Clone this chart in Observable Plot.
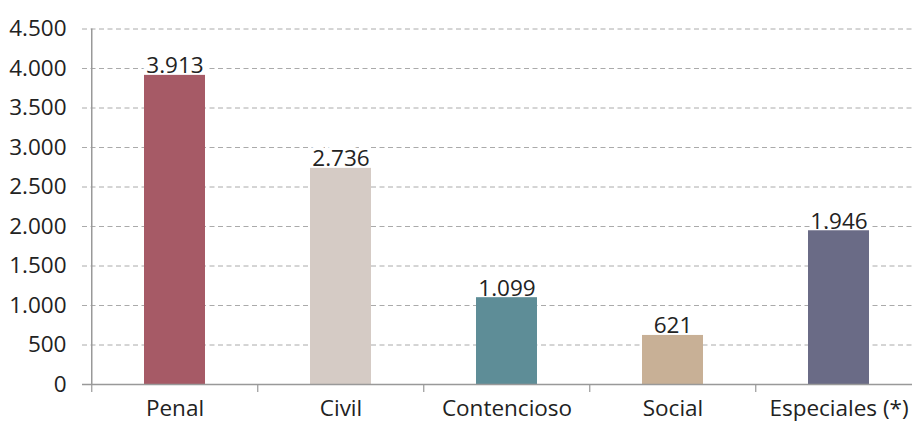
<!DOCTYPE html>
<html><head><meta charset="utf-8">
<script src="https://cdn.jsdelivr.net/npm/d3@7"></script>
<script src="https://cdn.jsdelivr.net/npm/@observablehq/plot@0.6"></script>
<style>body{margin:0;background:#fff;}</style>
</head><body><div id="chart"></div>
<script>
const categories = ["Penal", "Civil", "Contencioso", "Social", "Especiales (*)"];
const values = [3913, 2736, 1099, 621, 1946];
const valueLabels = ["3.913", "2.736", "1.099", "621", "1.946"];
const barColors = ["#a65a66", "#d5cbc5", "#5e8d97", "#c8b096", "#6a6b86"];
const yTicks = [0, 500, 1000, 1500, 2000, 2500, 3000, 3500, 4000, 4500];
const yTickLabels = ["0", "500", "1.000", "1.500", "2.000", "2.500", "3.000", "3.500", "4.000", "4.500"];

const data = categories.map((c, i) => ({c, v: values[i], label: valueLabels[i], color: barColors[i]}));
const xRange = [90, 922.5];
const half = (xRange[1] - xRange[0]) / categories.length / 2;
const fs = 22.5;

const chart = Plot.plot({
  width: 912, height: 424,
  marginTop: 28.5, marginBottom: 40, marginLeft: 82, marginRight: 0,
  style: {fontFamily: "'Open Sans', 'Noto Sans', sans-serif", fontSize: fs + "px", color: "#222", background: "white", overflow: "hidden"},
  x: {domain: categories, range: xRange, paddingInner: 0.634, paddingOuter: 0.317, align: 0.5, label: null},
  y: {domain: [0, 4500], label: null},
  color: {type: "identity"},
  marks: [
    Plot.ruleY(yTicks.filter(t => t > 0), {stroke: "#aaa", strokeDasharray: "5,3.5", strokeWidth: 1}),
    Plot.text(data, {x: "c", y: "v", text: "label", lineAnchor: "bottom", dy: -2, fill: "#222", stroke: "white", strokeWidth: 8, fontSize: fs}),
    Plot.barY(data, {x: "c", y: "v", fill: "color"}),
    Plot.ruleY([0], {stroke: "#999", strokeWidth: 1.5}),
    Plot.ruleX([categories[0]], {x: d => d, y1: 0, y2: 4500, dx: -half, stroke: "#999", strokeWidth: 1.5}),
    Plot.axisX({tickSize: 8, tickFormat: () => "", dx: -half, stroke: "#999", strokeWidth: 1.2, label: null}),
    Plot.axisX({tickSize: 0, tickPadding: 16, fontSize: fs, fill: "#222", label: null}),
    Plot.axisY({ticks: yTicks, tickSize: 0, tickPadding: 16, tickFormat: (d) => yTickLabels[yTicks.indexOf(d)], fontSize: fs, fill: "#222", label: null})
  ]
});
document.getElementById("chart").append(chart);
</script>
</body></html>
